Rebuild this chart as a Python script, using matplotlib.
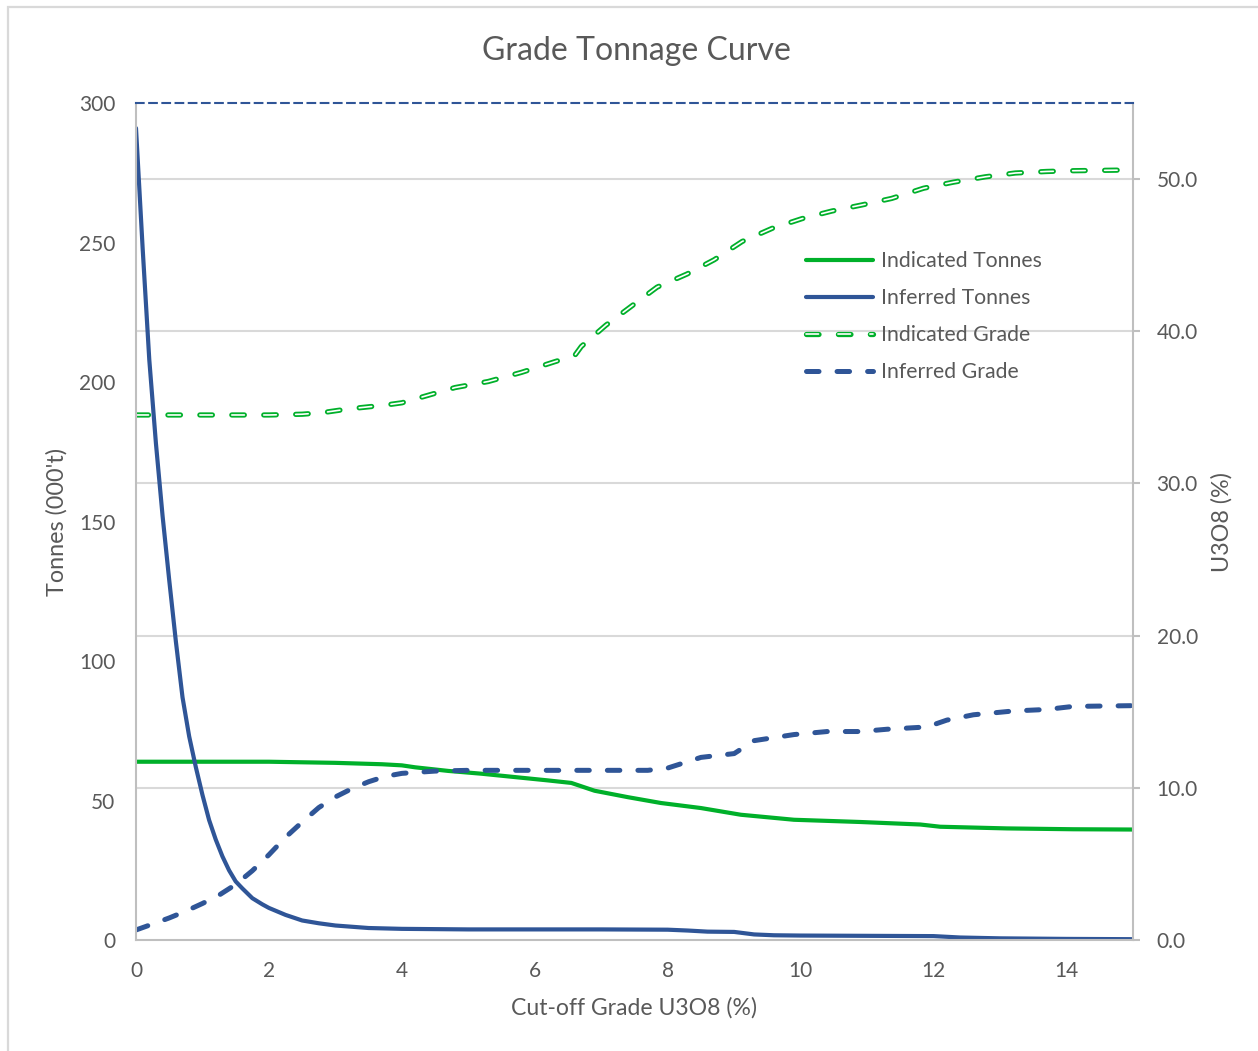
import matplotlib
matplotlib.use("Agg")
import matplotlib.pyplot as plt
import matplotlib.patheffects as pe
from matplotlib.patches import Rectangle

plt.rcParams["font.family"] = ["Lato", "DejaVu Sans"]
plt.rcParams["lines.scale_dashes"] = False

TEXT = "#595959"
GREEN = "#00B02A"
BLUE = "#2F5597"
GRID = "#D9D9D9"
AXIS = "#BFBFBF"

# ── data ──
inf_t_x = [0, 0.1, 0.2, 0.3, 0.4, 0.5, 0.6, 0.7, 0.8, 0.9, 1.0, 1.1, 1.2, 1.3, 1.4,
           1.5, 1.6, 1.75, 1.9, 2.0, 2.25, 2.5, 2.75, 3.0, 3.5, 4.0, 5, 6, 7, 8,
           8.3, 8.6, 9.0, 9.3, 9.6, 10, 11, 12, 12.4, 13, 14, 15]
inf_tonnes = [291, 248, 208, 178, 152, 129, 107, 87, 73, 62, 52, 43, 36, 30, 25,
              21, 18.5, 15, 12.8, 11.5, 9, 7, 6, 5.2, 4.3, 4.0, 3.8, 3.8, 3.8, 3.7,
              3.4, 3.0, 2.9, 2.0, 1.7, 1.6, 1.5, 1.4, 0.9, 0.6, 0.4, 0.3]

ind_t_x = [0, 2.0, 3.0, 3.7, 4.0, 4.2, 4.7, 5.2, 5.7, 6.2, 6.55, 6.9, 7.4, 7.9,
           8.5, 9.1, 9.9, 10.9, 11.8, 12.1, 13.1, 14.1, 15]
ind_tonnes = [63.9, 63.9, 63.5, 63.0, 62.6, 61.9, 60.6, 59.6, 58.4, 57.2, 56.3,
              53.5, 51.2, 49.1, 47.3, 44.9, 43.1, 42.3, 41.4, 40.6, 40.0, 39.7, 39.6]

inf_g_x = [0, 0.25, 0.5, 0.75, 1.0, 1.25, 1.5, 1.75, 2.0, 2.25, 2.5, 2.75, 3.0,
           3.25, 3.5, 3.75, 4.0, 4.5, 5.0, 6, 7, 7.7, 8.0, 8.5, 9.0, 9.3, 9.9,
           10.4, 10.9, 11.3, 11.9, 12.2, 12.6, 13.2, 13.7, 14.1, 15]
inf_grade = [0.66, 1.05, 1.45, 1.9, 2.4, 2.95, 3.65, 4.55, 5.6, 6.75, 7.75, 8.7,
             9.4, 9.95, 10.4, 10.75, 10.95, 11.1, 11.15, 11.15, 11.15, 11.15,
             11.3, 12.0, 12.25, 13.1, 13.5, 13.7, 13.7, 13.85, 14.0, 14.45,
             14.8, 15.05, 15.15, 15.35, 15.4]

ind_g_x = [0, 1, 2, 2.5, 2.8, 3.2, 3.75, 4.0, 4.4, 4.8, 5.3, 5.8, 6.3, 6.6, 6.7,
           7.07, 7.47, 7.84, 8.29, 8.7, 9.12, 9.57, 10.02, 10.47, 10.92, 11.37,
           11.85, 12.3, 12.78, 13.23, 13.7, 14.1, 15]
ind_grade = [34.5, 34.5, 34.5, 34.55, 34.65, 34.9, 35.15, 35.3, 35.8, 36.3, 36.7,
             37.3, 38.0, 38.4, 39.0, 40.4, 41.7, 42.9, 43.76, 44.7, 45.9, 46.76,
             47.4, 47.9, 48.3, 48.73, 49.4, 49.8, 50.15, 50.4, 50.5, 50.55, 50.6]

x_ticks = [0, 2, 4, 6, 8, 10, 12, 14]
tonne_ticks = [0, 50, 100, 150, 200, 250, 300]
grade_ticks = [0, 10, 20, 30, 40, 50]
TONNE_MAX, GRADE_MAX = 300, 55

fig = plt.figure(figsize=(12.58, 10.51), dpi=100)
fig.patches.append(Rectangle((8 / 1258, -0.05), 1.2, 1.05 - 7 / 1051,
                             transform=fig.transFigure, fill=False,
                             edgecolor=GRID, linewidth=1.6))

ax1 = fig.add_axes([0.1081, 0.1056, 0.7925, 0.7964])
ax2 = ax1.twinx()

# gridlines belong to the right axis; draw them under everything on ax1
for g in grade_ticks[1:]:
    ax1.axhline(g * TONNE_MAX / GRADE_MAX, color=GRID, linewidth=1.5, zorder=0)

l1, = ax1.plot(ind_t_x, ind_tonnes, color=GREEN, linewidth=3.0,
               solid_capstyle="round", solid_joinstyle="round",
               label="Indicated Tonnes")
l2, = ax1.plot(inf_t_x, inf_tonnes, color=BLUE, linewidth=3.0,
               solid_capstyle="round", solid_joinstyle="round",
               label="Inferred Tonnes")

l3, = ax2.plot(ind_g_x, ind_grade, color="white", linewidth=1.2,
               dashes=(9, 14), dash_capstyle="round", label="Indicated Grade",
               path_effects=[pe.Stroke(linewidth=3.8, foreground=GREEN), pe.Normal()])
l4, = ax2.plot(inf_g_x, inf_grade, color=BLUE, linewidth=3.6,
               dashes=(9, 13), dash_capstyle="round", label="Inferred Grade")

ax1.set_xlim(0, 15)
ax1.set_ylim(0, TONNE_MAX)
ax2.set_ylim(0, GRADE_MAX)
ax1.set_xticks(x_ticks)
ax1.set_yticks(tonne_ticks)
ax2.set_yticks(grade_ticks)
ax2.set_yticklabels([f"{g:.1f}" for g in grade_ticks])

ax1.tick_params(axis="both", length=0, labelsize=15, labelcolor=TEXT)
ax1.tick_params(axis="y", pad=15)
ax1.tick_params(axis="x", pad=15)
ax2.tick_params(axis="y", length=5, width=1.5, color=AXIS, direction="out",
                labelsize=15, labelcolor=TEXT, pad=12)

for s in ax1.spines.values():
    s.set_visible(False)
for side in ["left", "right", "bottom"]:
    ax2.spines[side].set_color(AXIS)
    ax2.spines[side].set_linewidth(1.5)
ax2.spines["top"].set_color(BLUE)
ax2.spines["top"].set_linewidth(1.5)
ax2.spines["top"].set_linestyle((0, (5.5, 4)))

fig.text(636 / 1258, 1 - 51 / 1051, "Grade Tonnage Curve", ha="center",
         va="center", fontsize=23, color=TEXT)
fig.text(57 / 1258, 1 - 522 / 1051, "Tonnes (000't)", ha="center", va="center",
         rotation=90, fontsize=16.8, color=TEXT)
fig.text(1222 / 1258, 1 - 522 / 1051, "U3O8 (%)", ha="center", va="center",
         rotation=90, fontsize=16.8, color=TEXT)
fig.text(634 / 1258, 1 - 1008 / 1051, "Cut-off Grade U3O8 (%)", ha="center",
         va="center", fontsize=16.6, color=TEXT)

leg = fig.legend(handles=[l1, l2, l3, l4], loc="upper left",
                 bbox_to_anchor=(806 / 1258, 1 - 251 / 1051),
                 bbox_transform=fig.transFigure, frameon=False, fontsize=15.3,
                 borderpad=0, borderaxespad=0, handlelength=3.15,
                 handletextpad=0.37, labelspacing=0.8)
for t in leg.get_texts():
    t.set_color(TEXT)

fig.savefig("out.png", dpi=100)
